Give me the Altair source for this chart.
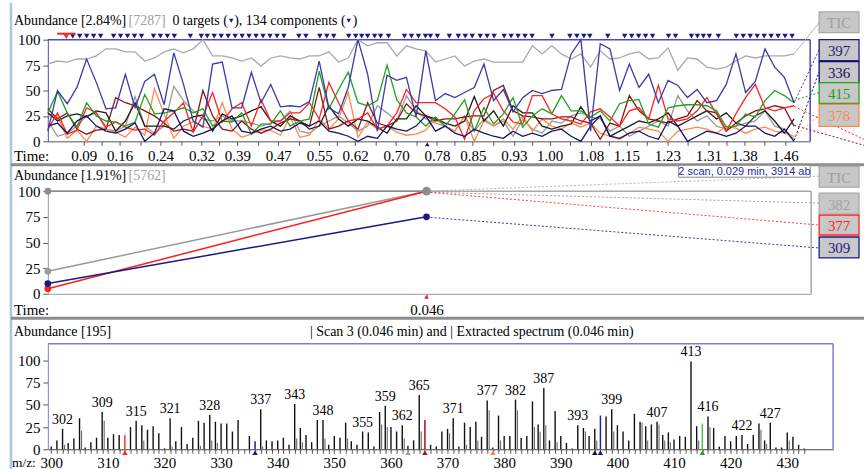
import json
import altair as alt
import pandas as pd

SERIF = "Liberation Serif, Times New Roman, Tinos, serif"
SANS = "Liberation Sans, Arial, sans-serif"

# ---------------- panel 1 : extracted ion chromatograms ----------------
SCAN_T0 = 0.0199
SCAN_DT = 0.01893
TIME_TICKS = [0.09, 0.16, 0.24, 0.32, 0.39, 0.47, 0.55, 0.62, 0.70, 0.78,
              0.85, 0.93, 1.00, 1.08, 1.15, 1.23, 1.31, 1.38, 1.46]

TIC = [76, 79, 78, 81, 81, 84, 91, 91, 88, 88, 79, 82, 88, 91, 87, 91, 100, 84, 84, 82,
       79, 82, 74, 82, 84, 82, 81, 84, 84, 88, 78, 82, 100, 94, 97, 97, 84, 94, 91, 89,
       78, 81, 84, 74, 79, 81, 78, 78, 78, 78, 94, 86, 94, 86, 81, 86, 73, 89, 81, 82,
       86, 88, 81, 82, 92, 70, 82, 81, 73, 71, 73, 79, 84, 82, 84, 84, 84, 86]
ION_397 = [10, 50, 37, 53, 81, 58, 32, 33, 66, 33, 59, 66, 36, 87, 56, 20, 14, 76, 78, 33,
           33, 68, 38, 56, 34, 35, 34, 39, 79, 33, 27, 53, 100, 66, 10, 65, 60, 63, 24, 89,
           40, 47, 43, 48, 53, 76, 40, 51, 29, 43, 50, 47, 50, 51, 86, 100, 10, 96, 91, 50,
           76, 53, 66, 38, 60, 55, 43, 51, 38, 40, 56, 86, 48, 59, 91, 73, 63, 38]
ION_415 = [28, 49, 28, 14, 38, 25, 20, 19, 15, 19, 46, 27, 28, 30, 33, 28, 32, 15, 20, 19,
           28, 7, 17, 17, 30, 15, 20, 22, 69, 32, 51, 68, 38, 35, 40, 75, 41, 28, 24, 15,
           24, 15, 27, 41, 10, 33, 17, 27, 43, 14, 25, 32, 27, 45, 30, 30, 24, 30, 20, 37,
           40, 41, 17, 14, 33, 35, 36, 36, 35, 30, 14, 15, 27, 24, 40, 50, 45, 38]
ION_RED = [12, 28, 7, 11, 33, 28, 14, 19, 14, 11, 12, 6, 20, 28, 38, 9, 25, 48, 19, 32,
           38, 15, 41, 20, 20, 28, 28, 38, 22, 58, 38, 20, 22, 28, 12, 15, 28, 51, 38, 38,
           38, 32, 24, 2, 30, 42, 47, 30, 19, 17, 45, 45, 27, 22, 20, 17, 29, 32, 24, 15,
           30, 33, 22, 55, 22, 20, 22, 30, 43, 27, 10, 27, 43, 56, 33, 30, 33, 35]
ION_378 = [25, 25, 3, 11, 0, 15, 12, 9, 4, 14, 6, 52, 27, 3, 15, 19, 15, 12, 38, 12,
           4, 7, 11, 11, 6, 24, 4, 6, 22, 12, 22, 48, 4, 19, 12, 15, 9, 6, 7, 11,
           22, 15, 10, 25, 0, 20, 15, 22, 12, 25, 10, 22, 15, 12, 18, 14, 18, 8, 5, 2,
           8, 14, 12, 10, 0, 10, 12, 14, 12, 8, 15, 13, 8, 12, 14, 10, 8, 5]
ION_MAROON = [32, 22, 28, 12, 7, 11, 12, 43, 38, 35, 30, 25, 18, 10, 12, 10, 50, 25, 12, 10,
              20, 12, 8, 12, 18, 22, 20, 15, 53, 12, 15, 20, 12, 38, 18, 15, 20, 37, 28, 25,
              20, 22, 22, 24, 25, 25, 50, 55, 30, 25, 24, 22, 22, 24, 24, 20, 18, 2, 18, 15,
              45, 30, 22, 20, 18, 22, 25, 40, 30, 28, 10, 18, 25, 30, 32, 35, 33, 15]
ION_BLACK = [28, 20, 25, 27, 24, 30, 28, 10, 20, 38, 15, 15, 15, 12, 20, 24, 26, 10, 27, 22,
             25, 30, 34, 20, 15, 25, 20, 12, 15, 35, 22, 15, 22, 20, 14, 8, 22, 22, 35, 25,
             22, 18, 15, 20, 44, 20, 30, 15, 35, 28, 28, 15, 12, 15, 17, 34, 20, 25, 5, 10,
             15, 20, 18, 22, 28, 15, 20, 25, 30, 22, 28, 18, 15, 25, 30, 20, 8, 22]
ION_GRAY = [20, 5, 8, 15, 25, 28, 12, 10, 15, 44, 15, 8, 15, 54, 40, 30, 22, 20, 25, 20,
            20, 18, 15, 18, 20, 30, 10, 8, 15, 20, 25, 18, 10, 15, 35, 28, 20, 45, 30, 22,
            18, 15, 10, 25, 10, 22, 15, 20, 5, 22, 12, 8, 20, 18, 25, 28, 24, 22, 10, 15,
            5, 10, 15, 20, 15, 45, 30, 20, 25, 15, 12, 15, 18, 20, 30, 15, 12, 2]
ION_336 = [15, 18, 8, 20, 25, 15, 10, 8, 12, 18, 0, 8, 32, 30, 10, 5, 8, 12, 20, 25,
           10, 8, 12, 15, 10, 12, 18, 15, 20, 10, 8, 5, 0, 5, 3, 15, 12, 10, 15, 25,
           10, 15, 8, 5, 12, 8, 5, 3, 10, 5, 8, 5, 10, 12, 5, 0, 15, 25, 5, 3,
           8, 10, 5, 2, 20, 15, 0, 5, 10, 8, 5, 8, 15, 15, 8, 5, 12, 0]

P1_SERIES = [("TIC", TIC, "#a9a9a9"), ("gray", ION_GRAY, "#9a9a9a"),
             ("378", ION_378, "#ff8a48"), ("black", ION_BLACK, "#1c1c1c"),
             ("maroon", ION_MAROON, "#8e1414"), ("red", ION_RED, "#ff2222"),
             ("415", ION_415, "#22a022"), ("336", ION_336, "#12126e"),
             ("397", ION_397, "#3a3aa8")]

COMPONENT_TIMES = [0.0686, 0.0822, 0.0958, 0.1094, 0.1230, 0.1483, 0.1620, 0.1756, 0.1892,
                   0.2028, 0.2262, 0.2398, 0.2534, 0.2670, 0.2982, 0.3196, 0.3313, 0.3449,
                   0.3585, 0.3721, 0.3858, 0.3994, 0.4130, 0.4266, 0.4402, 0.4539, 0.4675,
                   0.4811, 0.5103, 0.5239, 0.5512, 0.5648, 0.5784, 0.6076, 0.6212, 0.6329,
                   0.6446, 0.6582, 0.6699, 0.6854, 0.7166, 0.7302, 0.7438, 0.7575, 0.7672,
                   0.7808, 0.8041, 0.8217, 0.8353, 0.8489, 0.8645, 0.8781, 0.8917, 0.9112,
                   0.9248, 0.9384, 0.9520, 0.9657, 1.0046, 1.0396, 1.0532, 1.0669, 1.0785,
                   1.1136, 1.1466, 1.1603, 1.1739, 1.1875, 1.2011, 1.2323, 1.2459, 1.2770,
                   1.2887, 1.3004, 1.3121, 1.3296, 1.3646, 1.3783, 1.3919, 1.4055, 1.4191,
                   1.4327, 1.4463, 1.4599, 1.4736]
TARGET_T = [0.056]
TARGET_SPAN = [0.038, 0.074]
SCAN_MARK_T = [0.761]

# ---------------- panel 2 : two scans ----------------
P2_TIMES = [0.017, 0.046]
P2_SERIES = [("TIC", [100, 100], "#8c8c8c"), ("382", [22, 100], "#9a9a9a"),
             ("377", [5, 100], "#ff1c1c"), ("309", [10, 75], "#1a1a86")]

# ---------------- panel 3 : spectrum ----------------
MZ_FIRST = 300
SPECTRUM = [3, 10, 23, 7, 12, 35, 2, 8, 13, 42,
            13, 17, 16, 0, 25, 32, 27, 22, 26, 18,
            1, 35, 9, 25, 6, 13, 32, 30, 39, 31,
            29, 29, 20, 33, 0, 15, 0, 45, 10, 9,
            10, 13, 5, 51, 24, 16, 8, 33, 33, 5,
            15, 13, 30, 9, 5, 20, 19, 3, 42, 49,
            25, 20, 27, 4, 10, 61, 0, 5, 3, 20,
            23, 35, 3, 30, 25, 31, 14, 55, 2, 38,
            15, 15, 56, 13, 15, 54, 28, 69, 10, 43,
            15, 7, 1, 27, 24, 15, 23, 0, 37, 45,
            27, 20, 10, 40, 31, 26, 28, 31, 16, 19,
            11, 15, 14, 99, 26, 0, 37, 24, 3, 15,
            9, 15, 16, 6, 16, 29, 10, 30, 2, 2,
            19, 14, 5, 1]
SPEC2_MZ = [302, 305, 309, 316, 321, 326, 328, 329, 337, 343, 344, 348, 352, 358, 359, 362,
            365, 370, 373, 375, 377, 379, 382, 385, 386, 387, 389, 394, 396, 399, 404, 405,
            407, 408, 409, 414, 416, 425, 426, 430]
SPEC2_H = [5, 21, 32, 10, 3, 4, 10, 7, 3, 12, 8, 12, 12, 28, 25, 12,
           20, 18, 5, 10, 44, 10, 44, 25, 20, 27, 8, 20, 10, 20, 30, 10,
           28, 10, 8, 10, 25, 22, 6, 10]
PEAK_LABELS = [302, 309, 315, 321, 328, 337, 343, 348, 355, 359, 362, 365, 371, 377, 382,
               387, 393, 399, 407, 413, 416, 422, 427]
ION_RULE_MZ = [313, 336, 366, 397, 415]
ION_RULE_H = [16, 9, 33, 38, 29]
ION_RULE_C = ["#ff3030", "#1a1a86", "#a01818", "#2222a0", "#5cb85c"]
TRI_MZ = [313, 336, 363, 366, 378, 396, 397, 415]
TRI_C = ["#ff2020", "#1a1a86", "#a0a0a0", "#a01818", "#ff8a48", "#111111", "#1a1a86", "#22a022"]

# ---------------- helpers ----------------
dummy = pd.DataFrame({"d": [0]})


def txt(s, x, y, color="#000000", size=14, font=SERIF, align="left"):
    return alt.Chart(dummy).mark_text(text=s, align=align, baseline="middle", font=font,
                                      fontSize=size, color=color).encode(
        x=alt.value(x), y=alt.value(y))


def box(x1, x2, y1, y2, fill, stroke, sw=1.3):
    return alt.Chart(dummy).mark_rect(fill=fill, stroke=stroke, strokeWidth=sw).encode(
        x=alt.value(x1), x2=alt.value(x2), y=alt.value(y1), y2=alt.value(y2))


def seg(x1, y1, x2, y2, color, width=1.0, dash=None):
    kw = dict(color=color, strokeWidth=width)
    if dash:
        kw["strokeDash"] = dash
    return alt.Chart(dummy).mark_rule(**kw).encode(
        x=alt.value(x1), y=alt.value(y1), x2=alt.value(x2), y2=alt.value(y2))


def tri(x, y, color, shape="triangle-down", size=22):
    return alt.Chart(dummy).mark_point(shape=shape, filled=True, size=size, color=color,
                                       opacity=1).encode(x=alt.value(x), y=alt.value(y))


def legend_box(x, y1, y2, label, color, fill="#c8c8c8", stroke=None):
    return [box(x, x + 40, y1, y2, fill, stroke or color),
            txt(label, x + 20, (y1 + y2) / 2 + 1, color=color, size=15, align="center")]


AX = dict(labelFont=SERIF, labelFontSize=15, labelColor="#000000", grid=False, title=None,
          labelOverlap=False, labelFlush=False, tickColor="#555555")

W1, H1 = 765, 102
W2, H2 = 766, 103
W3, H3 = 788, 106
BLUE1 = "#4b4bbf"
BLUE3 = "#7c7cd6"
NAVY = "#1a1a86"

# ---------------- panel 1 ----------------
mids = [(a + b) / 2 for a, b in zip(TIME_TICKS, TIME_TICKS[1:])]
tick_vals = sorted(TIME_TICKS + mids)
lab_list = json.dumps([f"{v:.2f}" for v in TIME_TICKS])
X1 = alt.X("t:Q", scale=alt.Scale(domain=[0.0199, 1.509], nice=False, zero=False),
           axis=alt.Axis(values=tick_vals, format=".2f",
                         labelExpr=f"indexof({lab_list}, format(datum.value, '.2f')) >= 0 ? format(datum.value, '.2f') : ''",
                         tickSize=4, labelPadding=3, domainColor="#555555", **AX))
Y1 = alt.Y("v:Q", scale=alt.Scale(domain=[0, 100], nice=False),
           axis=alt.Axis(values=[0, 25, 50, 75, 100], tickSize=5, labelPadding=3,
                         domainColor=BLUE1, **AX))

p1_layers = [
    box(-47, -46, -37, -36, "#ffffff", "#ffffff", 0),
    seg(-37, -37, -37, 432, "#a9c6e3", 2.5),
    seg(-37, 125.5, 819, 125.5, "#8c8c8c", 3),
    seg(0, 0, W1, 0, BLUE1, 1.5),
    seg(W1, 0, W1, H1, BLUE1, 1.5),
]
for name, vals, col in P1_SERIES:
    d = pd.DataFrame({"t": [SCAN_T0 + i * SCAN_DT for i in range(len(vals))], "v": vals})
    p1_layers.append(alt.Chart(d).mark_line(color=col, strokeWidth=1.3).encode(x=X1, y=Y1))

p1_layers += [
    alt.Chart(pd.DataFrame({"t": COMPONENT_TIMES})).mark_point(
        shape="triangle-down", filled=True, size=30, color=NAVY, opacity=1).encode(
        x=X1, y=alt.value(-3.5)),
    alt.Chart(pd.DataFrame({"t": [TARGET_SPAN[0]], "t2": [TARGET_SPAN[1]]})).mark_rule(
        color="#ff2020", strokeWidth=2).encode(x=X1, x2="t2:Q", y=alt.value(-6)),
    alt.Chart(pd.DataFrame({"t": TARGET_T})).mark_point(
        shape="triangle-down", filled=True, size=30, color="#ff2020", opacity=1).encode(
        x=X1, y=alt.value(-3)),
    alt.Chart(pd.DataFrame({"t": SCAN_MARK_T})).mark_point(
        shape="triangle-up", filled=True, size=22, color=NAVY, opacity=1).encode(
        x=X1, y=alt.value(H1 + 3)),
    txt("Abundance [2.84%]", -34, -19),
    txt("[7287]", 81, -19, color="#a0a0a0"),
    txt("0 targets (", 125, -19),
    tri(184, -19, NAVY, size=20),
    txt("), 134 components (", 187, -19),
    tri(302, -19, NAVY, size=20),
    txt(")", 306, -19),
    txt("Time:", -34, 117, size=15),
    # connectors to legend boxes
    seg(749, 14, 774, -17, "#b4b4b4", 1),
    seg(749, 63, 774, 10, "#3a3aa8", 1, [2, 2]),
    seg(749, 101, 774, 32, "#12126e", 1, [2, 2]),
    seg(749, 61, 774, 53, "#22a022", 1, [2, 2]),
    seg(749, 97, 774, 76, "#ff8a48", 1, [2, 2]),
    seg(749, 67, 819, 100, "#ff2222", 1, [2, 2]),
    seg(749, 86, 819, 106, "#8e1414", 1, [2, 2]),
]
p1_layers += legend_box(774, -28, -7, "TIC", "#a0a0a0", stroke="#a8a8a8")
p1_layers += legend_box(774, 0, 21, "397", "#1a1a86")
p1_layers += legend_box(774, 22, 43, "336", "#10106a")
p1_layers += legend_box(774, 43, 64, "415", "#22a022")
p1_layers += legend_box(774, 65, 87, "378", "#ff8a48")
p1 = alt.layer(*p1_layers).properties(width=W1, height=H1)

# ---------------- panel 2 ----------------
X2 = alt.X("t:Q", scale=alt.Scale(domain=[0.017, 0.07546], nice=False, zero=False),
           axis=alt.Axis(values=[0.046], format=".3f", tickSize=4, labelPadding=5,
                         domainColor="#9a9a9a", **AX))
Y2 = alt.Y("v:Q", scale=alt.Scale(domain=[0, 100], nice=False),
           axis=alt.Axis(values=[0, 25, 50, 75, 100], tickSize=5, labelPadding=3,
                         domainColor="#9a9a9a", **AX))
p2_layers = [
    seg(0, 0, W2, 0, "#a8a8a8", 1.5),
    seg(W2, 0, W2, H2, "#a8a8a8", 1.5),
    seg(-37, 127.5, 819, 127.5, "#8c8c8c", 3),
    # connectors
    seg(380, 0, 774, -15, "#b4b4b4", 1, [2, 2]),
    seg(380, 1, 774, 12, "#a0a0a0", 1, [2, 2]),
    seg(380, 1, 774, 34, "#ff4040", 1, [2, 2]),
    seg(380, 26, 774, 57, "#3a3aa8", 1, [2, 2]),
]
for name, vals, col in P2_SERIES:
    d = pd.DataFrame({"t": P2_TIMES, "v": vals})
    p2_layers.append(alt.Chart(d).mark_line(color=col, strokeWidth=1.5).encode(x=X2, y=Y2))
for name, vals, col in P2_SERIES:
    d = pd.DataFrame({"t": P2_TIMES, "v": vals})
    p2_layers.append(alt.Chart(d).mark_circle(color=col, size=45, opacity=1).encode(x=X2, y=Y2))
p2_layers += [
    alt.Chart(pd.DataFrame({"t": [P2_TIMES[1]], "v": [100]})).mark_circle(
        color="#8c8c8c", size=75, opacity=1).encode(x=X2, y=Y2),
    alt.Chart(pd.DataFrame({"t": [P2_TIMES[1]]})).mark_point(
        shape="triangle-up", filled=True, size=22, color="#ff2020", opacity=1).encode(
        x=X2, y=alt.value(H2 + 3)),
    txt("Abundance [1.91%]", -34, -15),
    txt("[5762]", 81, -15, color="#a0a0a0"),
    txt("Time:", -34, 119, size=15),
    box(633, 765, -26, -14, "#ffffff", "#888888", 1),
    txt("2 scan, 0.029 min, 3914 ab", 699, -19.5, color="#2a2aa0", size=11, font=SANS,
        align="center"),
]
p2_layers += legend_box(774, -25, -4, "TIC", "#a0a0a0", stroke="#a8a8a8")
p2_layers += legend_box(774, 2, 23, "382", "#a0a0a0", stroke="#a8a8a8")
p2_layers += legend_box(774, 24, 44, "377", "#ff1c1c")
p2_layers += legend_box(774, 46, 67, "309", "#1a1a86")
p2 = alt.layer(*p2_layers).properties(width=W2, height=H2)

# ---------------- panel 3 ----------------
mz_all = list(range(MZ_FIRST, MZ_FIRST + len(SPECTRUM)))
spec = pd.DataFrame({"mz": mz_all, "h": SPECTRUM})
spec = spec[spec.h > 0]
X3 = alt.X("mz:Q", scale=alt.Scale(domain=[299.4, 438.1], nice=False, zero=False),
           axis=alt.Axis(values=mz_all, labelExpr="datum.value % 10 === 0 ? datum.label : ''",
                         tickSize=4, labelPadding=2, domainColor="#444444", **AX))
Y3 = alt.Y("h:Q", scale=alt.Scale(domain=[0, 119], nice=False),
           axis=alt.Axis(values=[0, 25, 50, 75, 100], tickSize=5, labelPadding=3,
                         domainColor=BLUE3, **AX))
labels = pd.DataFrame({"mz": PEAK_LABELS,
                       "h": [SPECTRUM[m - MZ_FIRST] for m in PEAK_LABELS],
                       "lab": [str(m) for m in PEAK_LABELS]})
p3_layers = [
    seg(0, 0, W3, 0, BLUE3, 1.5),
    seg(W3, 0, W3, H3, BLUE3, 1.5),
    alt.Chart(spec).mark_rule(color="#111111", strokeWidth=1.4).encode(
        x=X3, y=Y3, y2=alt.value(H3)),
    alt.Chart(pd.DataFrame({"mz": SPEC2_MZ, "h": SPEC2_H})).mark_rule(
        color="#6a6a6a", strokeWidth=1.1, xOffset=2).encode(x=X3, y=Y3, y2=alt.value(H3)),
    alt.Chart(pd.DataFrame({"mz": ION_RULE_MZ, "h": ION_RULE_H, "c": ION_RULE_C})).mark_rule(
        strokeWidth=1.5).encode(x=X3, y=Y3, y2=alt.value(H3), color=alt.Color("c:N", scale=None)),
    alt.Chart(pd.DataFrame({"mz": TRI_MZ, "c": TRI_C})).mark_point(
        shape="triangle-up", filled=True, size=30, opacity=1).encode(
        x=X3, y=alt.value(H3 + 3.5), color=alt.Color("c:N", scale=None)),
    alt.Chart(labels).mark_text(dy=-9, font=SERIF, fontSize=14, color="#000000",
                                baseline="middle").encode(x=X3, y=Y3, text="lab:N"),
    txt("Abundance [195]", -34, -12),
    txt("| Scan 3 (0.046 min) and | Extracted spectrum (0.046 min)", 263, -12),
    txt("m/z:", -36, 120, size=13.5),
]
p3 = alt.layer(*p3_layers).properties(width=W3, height=H3)

chart = alt.vconcat(p1, p2, p3, spacing=50, bounds="flush").properties(
    padding=0, background="#ffffff").configure_view(stroke="transparent")

chart.save("out.html", embed_options={"renderer": "svg", "actions": False})
